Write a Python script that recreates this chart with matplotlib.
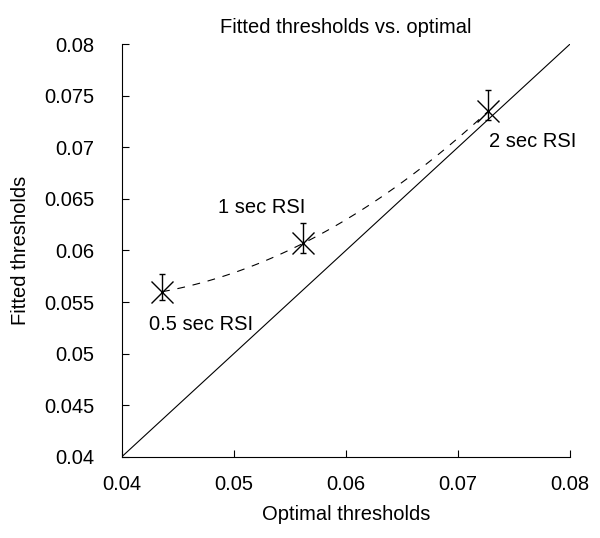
import matplotlib
matplotlib.use('Agg')
import matplotlib.pyplot as plt
import numpy as np

plt.rcParams['font.family'] = ['Liberation Sans', 'DejaVu Sans']

# data
labels = ['0.5 sec RSI', '1 sec RSI', '2 sec RSI']
optimal = np.array([0.0436, 0.0562, 0.0727])
fitted = np.array([0.0560, 0.0607, 0.0735])
err_lo = np.array([0.0008, 0.0009, 0.0009])
err_hi = np.array([0.0017, 0.0020, 0.0021])
label_xy = [(0.0424, 0.0528), (0.0486, 0.0642), (0.0728, 0.0706)]

fs = 14.5

fig = plt.figure(figsize=(6.0, 5.38), dpi=100)
ax = fig.add_axes([0.203, 0.151, 0.747, 0.767])

# identity line
lims = np.array([0.04, 0.08])
ax.plot(lims, lims, 'k-', lw=0.8)

# dashed trend through the three conditions
m_c = np.polyfit(optimal, fitted, 2)
trend = np.poly1d(m_c)
xs = np.linspace(optimal[0], optimal[-1], 100)
ax.plot(xs, trend(xs), 'k--', lw=0.8, dashes=(7, 7))

ax.errorbar(optimal, fitted, yerr=[err_lo, err_hi], fmt='none', ecolor='k',
            elinewidth=1.0, capsize=2.5, capthick=1.0)
ax.plot(optimal, fitted, 'kx', ms=16, mew=1.0)

for lab, (tx, ty) in zip(labels, label_xy):
    ax.text(tx, ty, lab, fontsize=fs, ha='left', va='center')

ax.set_xlim(0.04, 0.08)
ax.set_ylim(0.04, 0.08)
ax.set_xticks([0.04, 0.05, 0.06, 0.07, 0.08])
ax.set_xticklabels(['0.04', '0.05', '0.06', '0.07', '0.08'])
ax.set_yticks([0.04, 0.045, 0.05, 0.055, 0.06, 0.065, 0.07, 0.075, 0.08])
ax.set_yticklabels(['0.04', '0.045', '0.05', '0.055', '0.06', '0.065', '0.07', '0.075', '0.08'])
ax.tick_params(direction='in', length=5, width=0.8, labelsize=fs)
ax.tick_params(axis='x', pad=13)
ax.tick_params(axis='y', pad=20)
for side in ['top', 'right']:
    ax.spines[side].set_visible(False)
for side in ['left', 'bottom']:
    ax.spines[side].set_linewidth(0.8)

ax.set_title('Fitted thresholds vs. optimal', fontsize=fs, pad=8)
ax.set_xlabel('Optimal thresholds', fontsize=fs, labelpad=8)
ax.set_ylabel('Fitted thresholds', fontsize=fs, labelpad=10)

fig.savefig('out.png', dpi=100)
